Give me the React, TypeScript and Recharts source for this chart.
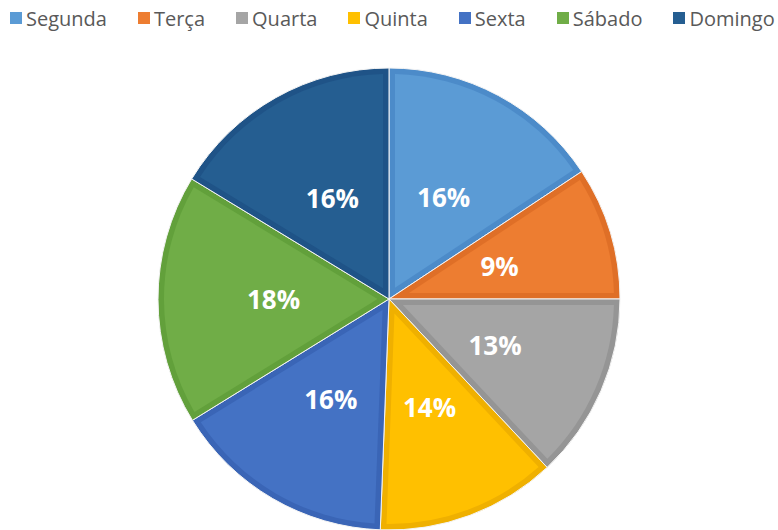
import React from 'react';
import { PieChart, Pie, Cell, Legend, Sector } from 'recharts';

const days = ['Segunda', 'Terça', 'Quarta', 'Quinta', 'Sexta', 'Sábado', 'Domingo'];
const shares = [15.7, 9.3, 13.0, 12.6, 15.6, 17.5, 16.3];
const pctLabels = ['16%', '9%', '13%', '14%', '16%', '18%', '16%'];
const fills = ['#5B9BD5', '#ED7D31', '#A5A5A5', '#FFC000', '#4472C4', '#70AD47', '#255E91'];
const borders = ['#4C8BC9', '#DF6F27', '#959595', '#EFB000', '#3A65B6', '#62A03B', '#1F5387'];

const data = days.map((d, i) => ({ name: d, value: shares[i] }));

const LEGEND_H = 36;
const RAD = Math.PI / 180;

function renderSlice(props: any) {
  const { cx, cy, outerRadius, startAngle, endAngle } = props;
  const name = props.name ?? props.payload?.name;
  let idx = days.indexOf(name);
  if (idx < 0) idx = props.index ?? 0;
  const d = 6;
  const aMin = Math.min(startAngle, endAngle);
  const aMax = Math.max(startAngle, endAngle);
  const theta = (aMax - aMin) * RAD;
  const mid = ((aMin + aMax) / 2) * RAD;
  const apexR = d / Math.sin(theta / 2);
  const ax = cx + apexR * Math.cos(mid);
  const ay = cy - apexR * Math.sin(mid);
  const r2 = outerRadius - d;
  const delta = Math.asin(d / r2) / RAD;
  const p = (a: number) => [cx + r2 * Math.cos(a * RAD), cy - r2 * Math.sin(a * RAD)];
  const [x1, y1] = p(aMin + delta);
  const [x2, y2] = p(aMax - delta);
  const inner = `M${ax},${ay} L${x1},${y1} A${r2},${r2} 0 0 0 ${x2},${y2} Z`;
  return (
    <g>
      <Sector
        cx={cx}
        cy={cy}
        innerRadius={0}
        outerRadius={outerRadius}
        startAngle={startAngle}
        endAngle={endAngle}
        fill={borders[idx]}
        stroke="#f4f4f4"
        strokeWidth={1}
      />
      <path d={inner} fill={fills[idx]} />
    </g>
  );
}

function renderLabel(props: any) {
  const { cx, cy, midAngle, outerRadius, index } = props;
  const r = outerRadius * 0.5;
  const x = cx + r * Math.cos(-midAngle * RAD);
  const y = cy + r * Math.sin(-midAngle * RAD);
  return (
    <text
      x={x}
      y={y}
      fill="#ffffff"
      textAnchor="middle"
      dominantBaseline="central"
      style={{ fontFamily: '"Open Sans", sans-serif', fontWeight: 700, fontSize: 26 }}
    >
      {pctLabels[index]}
    </text>
  );
}

function LegendContent() {
  return (
    <div
      style={{
        display: 'flex',
        alignItems: 'center',
        height: LEGEND_H,
        paddingLeft: 10,
        gap: 31,
        fontFamily: '"Open Sans", sans-serif',
        fontSize: 20,
        color: '#595959',
        whiteSpace: 'nowrap',
      }}
    >
      {days.map((d, i) => (
        <div key={d} style={{ display: 'flex', alignItems: 'center' }}>
          <span style={{ display: 'inline-block', width: 12, height: 12, background: fills[i], marginRight: 4 }} />
          <span>{d}</span>
        </div>
      ))}
    </div>
  );
}

export default function App() {
  return (
    <div style={{ position: 'absolute', left: 0, top: 0, width: 778, height: 530, background: '#ffffff' }}>
      <PieChart width={778} height={530} margin={{ top: 0, right: 0, bottom: 0, left: 0 }}>
        <Legend
          verticalAlign="top"
          align="left"
          height={LEGEND_H}
          content={<LegendContent />}
          wrapperStyle={{ top: 0, left: 0, width: 778 }}
        />
        <Pie
          data={data}
          dataKey="value"
          nameKey="name"
          cx={389}
          cy={299 - LEGEND_H}
          outerRadius={231}
          startAngle={90}
          endAngle={-270}
          isAnimationActive={false}
          labelLine={false}
          label={renderLabel}
          shape={renderSlice}
          stroke="none"
        >
          {data.map((e, i) => (
            <Cell key={e.name} fill={fills[i]} />
          ))}
        </Pie>
      </PieChart>
    </div>
  );
}
